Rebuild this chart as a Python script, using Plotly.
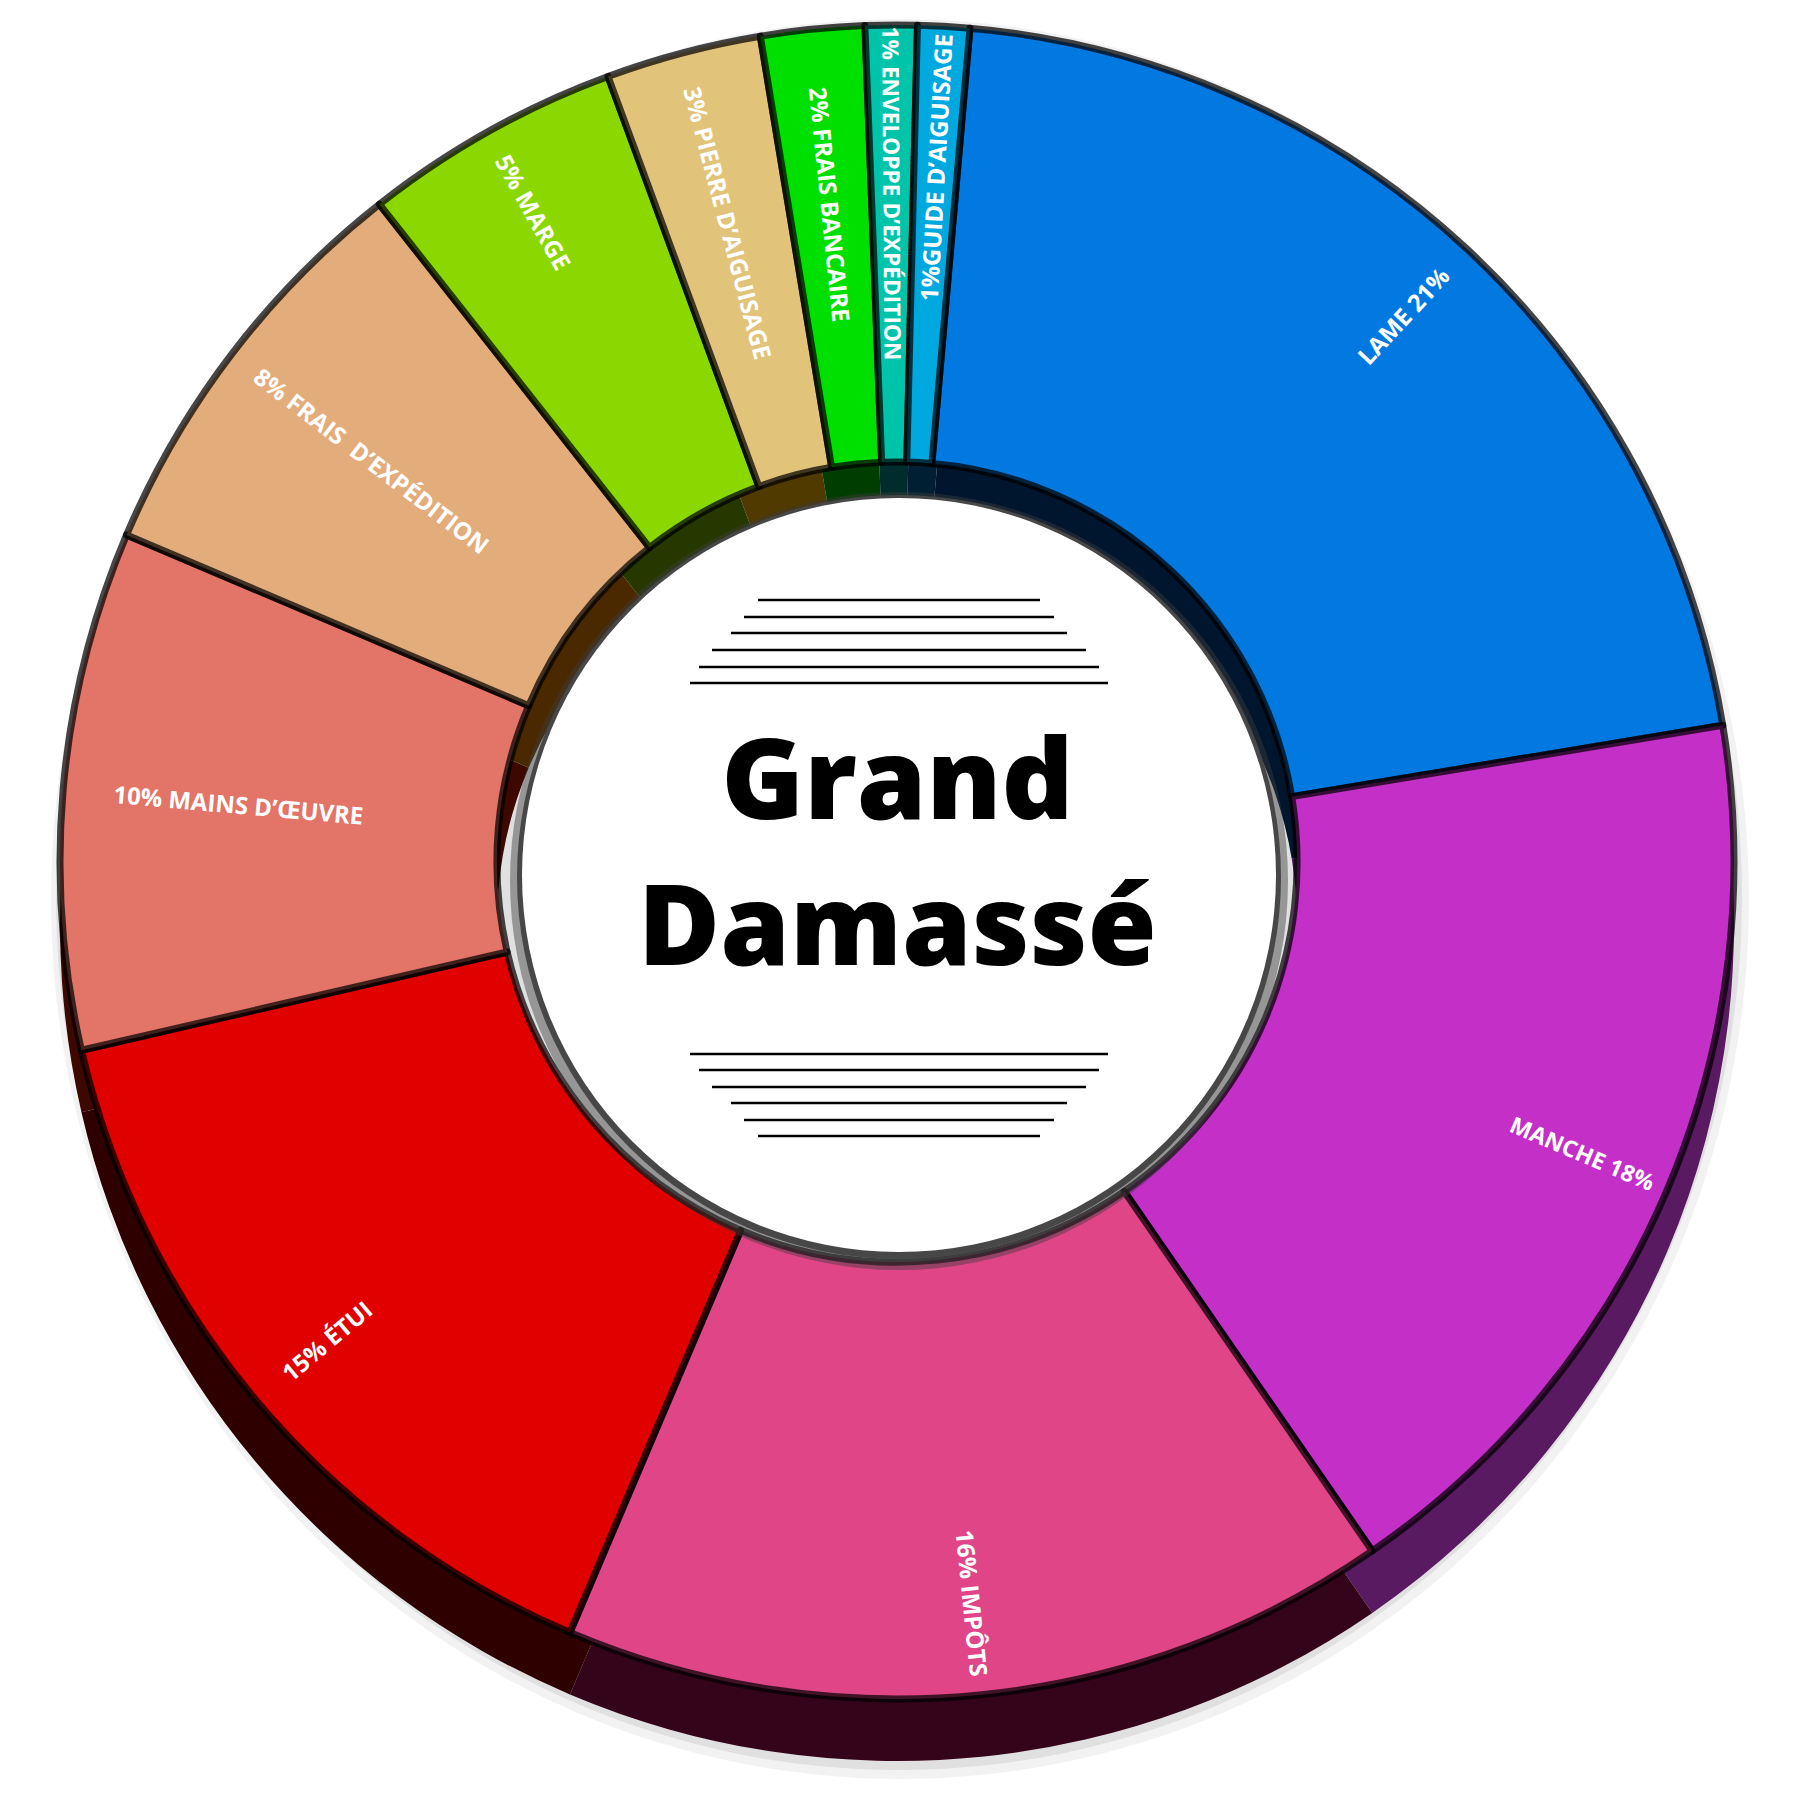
import plotly.graph_objects as go

# ---------------- data ----------------
categories = ["Lame", "Manche", "Impôts", "Étui", "Mains d’œuvre", "Frais d’expédition",
              "Marge", "Pierre d’aiguisage", "Frais bancaire", "Enveloppe d’expédition",
              "Guide d’aiguisage"]
shares = [21, 18, 16, 15, 10, 8, 5, 3, 2, 1, 1]
slice_labels = ["LAME 21%", "MANCHE 18%", "16% IMPÔTS", "15% ÉTUI", "10% MAINS D’ŒUVRE",
                "8% FRAIS  D’EXPÉDITION", "5% MARGE", "3% PIERRE D’AIGUISAGE",
                "2% FRAIS BANCAIRE", "1% ENVELOPPE D’EXPÉDITION", "1%GUIDE D’AIGUISAGE"]
title_lines = ["Grand", "Damassé"]

# ---------------- styles ----------------
face_colors = ["#0279e0", "#c42fc8", "#e04587", "#e00000", "#e27468", "#e3ac7b",
               "#8ad800", "#e1c37a", "#00e000", "#00c4aa", "#00a8e0"]
side_colors = ["#00152e", "#5a1a62", "#34041a", "#2e0000", "#3d0800", "#4a2800",
               "#263800", "#503a00", "#003d00", "#002c2c", "#001f33"]
label_sizes = [24, 23, 24, 24, 24, 24, 24, 24, 24, 24, 24]
rim_label_cats = ["Lame", "Manche", "Impôts", "Étui", "Marge"]
# portion of a slice used to centre its label away from the 3 / 9 o'clock lines
label_window = {"Manche": 0.6, "Mains d’œuvre": 0.25}

OFF = 8                      # default page margin of the html body
FW = 1800 - 2 * OFF          # figure size
CX, CY, R = 897, 862, 837    # face centre / radius in page pixels
HOLE = 0.478
DEPTH = 62
ROT = 5
LABEL_FAMILY = "Open Sans"


def px(x):
    return (x - OFF) / FW


def py(y):
    return 1 - (y - OFF) / FW


def dom(cx, cy, r):
    return dict(x=[px(cx - r), px(cx + r)], y=[py(cy + r), py(cy - r)])


common = dict(sort=False, direction="clockwise", rotation=ROT, showlegend=False)

fig = go.Figure()

# extrusion (side walls)
fig.add_trace(go.Pie(labels=categories, values=shares, **common,
                     domain=dom(CX, CY + DEPTH, R), hole=HOLE,
                     marker=dict(colors=side_colors, line=dict(width=0)),
                     textinfo="none", hoverinfo="skip"))
# top faces
fig.add_trace(go.Pie(labels=categories, values=shares, **common,
                     domain=dom(CX, CY, R), hole=HOLE,
                     marker=dict(colors=face_colors,
                                 line=dict(color="rgba(0,0,0,0.72)", width=7)),
                     textinfo="none", hovertemplate="%{label}: %{value}%<extra></extra>"))


def label_pie(hole, cats):
    vals, txt, sizes = [], [], []
    for c, s, t, fs in zip(categories, shares, slice_labels, label_sizes):
        show = t if c in cats else ""
        if c in label_window and c in cats:
            f = label_window[c]
            vals += [s * (1 - f) / 2, s * f, s * (1 - f) / 2]
            txt += ["", show, ""]
            sizes += [fs, fs, fs]
        else:
            vals.append(s)
            txt.append(show)
            sizes.append(fs)
    return go.Pie(labels=[f"p{i}" for i in range(len(vals))], values=vals, **common,
                  domain=dom(CX, CY, R), hole=hole,
                  marker=dict(colors=["rgba(0,0,0,0)"] * len(vals), line=dict(width=0)),
                  text=txt, textinfo="text", textposition="inside",
                  insidetextorientation="radial",
                  textfont=dict(family=LABEL_FAMILY, size=sizes, color="white", weight=700),
                  hoverinfo="skip")


fig.add_trace(label_pie(0.78, rim_label_cats))
fig.add_trace(label_pie(0.58, [c for c in categories if c not in rim_label_cats]))

shapes = []


def ell(cx, cy, rx, ry, color, layer="above"):
    return dict(type="circle", xref="paper", yref="paper",
                x0=px(cx - rx), x1=px(cx + rx), y0=py(cy + ry), y1=py(cy - ry),
                fillcolor=color, line=dict(width=0), layer=layer)


# soft outer drop shadow
shapes.append(ell(CX + 3, CY + DEPTH / 2 + 6, R + 12, R + DEPTH / 2 + 12, "rgba(0,0,0,0.05)", "below"))
shapes.append(ell(CX + 2, CY + DEPTH / 2 + 3, R + 6, R + DEPTH / 2 + 6, "rgba(0,0,0,0.07)", "below"))

# central disc with its shadow
DCX, DCY, DR = 899, 875, 377
shapes.append(ell(DCX, DCY + 6, DR + 12, DR + 12, "rgba(60,60,60,0.45)"))
shapes.append(ell(DCX, DCY + 2, DR + 5, DR + 5, "#474747"))
shapes.append(ell(DCX, DCY, DR, DR, "white"))

# decorative rules
rule_top_y = [600, 617, 633, 650, 667, 683]
rule_half = [141, 155, 168, 187, 200, 209]
rule_bot_y = [1054, 1070, 1087, 1103, 1120, 1136]
for ys, hs in ((rule_top_y, rule_half), (rule_bot_y, rule_half[::-1])):
    for y, h in zip(ys, hs):
        shapes.append(dict(type="line", xref="paper", yref="paper",
                           x0=px(DCX - h), x1=px(DCX + h), y0=py(y), y1=py(y),
                           line=dict(color="black", width=2.5), layer="above"))

annotations = [dict(text="<br>".join(title_lines), x=px(DCX - 2), y=py(849),
                    xref="paper", yref="paper", showarrow=False,
                    xanchor="center", yanchor="middle", align="center",
                    font=dict(family="Open Sans", size=112, color="black", weight=800))]

fig.update_layout(width=FW, height=FW, margin=dict(l=0, r=0, t=0, b=0),
                  paper_bgcolor="white", plot_bgcolor="white",
                  shapes=shapes, annotations=annotations)

fig.write_html("out.html")
